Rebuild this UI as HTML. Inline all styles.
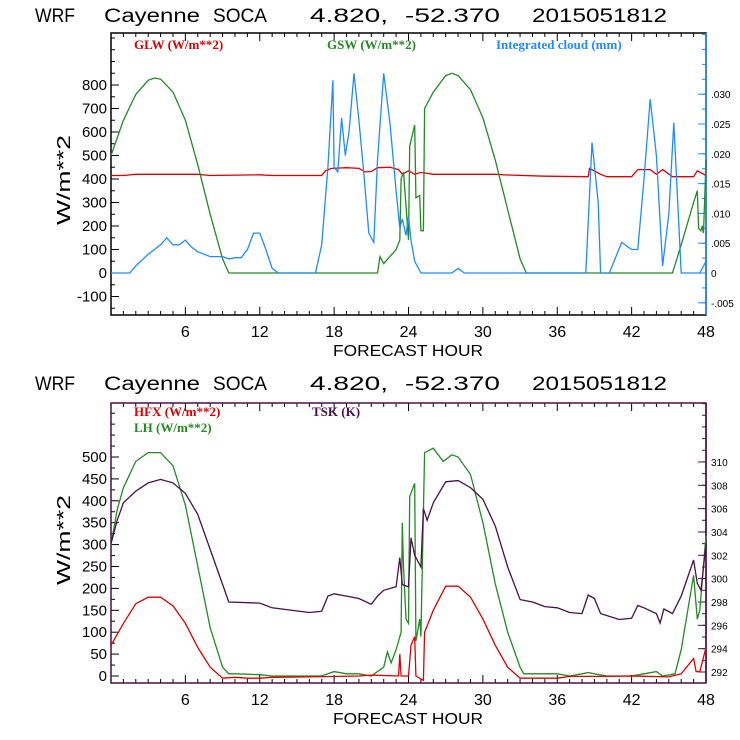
<!DOCTYPE html>
<html><head><meta charset="utf-8"><style>
body{margin:0;background:#fff}
svg{display:block}
text{font-family:"Liberation Sans",sans-serif}
.t{font-family:"Liberation Sans",sans-serif;font-size:19px}
.lg{font-family:"Liberation Serif",serif;font-size:13px}
</style></head><body>
<svg id="s" width="740" height="740" xmlns="http://www.w3.org/2000/svg"></svg>
<script>
// ---- top chart data ----
const gswH=[0,1,2,3,3.5,4,5,6,7,8,9,9.5,21.5,21.7,22,22.5,23,23.3,23.4,23.6,24,24.1,24.5,24.6,24.9,25,25.2,25.3,26,27,27.5,28,29,30,31,32,33,33.5,45.3,46,47,47.3,47.4,47.6,47.7,47.8,48];
const gswV=[500,650,760,820,830,825,770,650,460,250,60,0,0,70,40,70,100,140,400,430,140,540,630,320,330,180,180,700,770,840,850,840,780,660,480,270,60,0,0,120,300,350,190,180,200,170,480];
const cldH=[0,1.5,2,3,4,4.5,5,5.5,6,6.5,7,7.5,8,9,9.5,10,10.5,11,11.5,12,12.5,13,13.5,16.5,17,17.5,17.9,18,18.3,18.6,18.9,19.2,19.6,20,20.4,20.8,21.2,21.5,22,22.5,23,23.3,23.5,23.8,24,24.2,24.5,25,27.5,28,28.5,38.3,38.8,39.3,39.5,40.2,41.2,42,42.5,43,43.5,44,44.5,45,45.4,46,47.5,48];
const cldV=[0,0,30,80,120,150,120,120,140,110,90,80,70,70,60,65,65,100,170,170,100,20,0,0,120,450,820,450,430,660,500,600,850,650,420,170,130,480,850,640,350,190,230,160,240,140,50,0,0,20,0,0,555,300,0,0,130,100,100,400,740,500,30,250,640,0,0,50];
const glwH=[0,1,2,7,8,12,13,17,17.3,17.8,19,20,20.5,21,21.5,22.5,23.2,23.5,24,24.5,25,26,31,32,35,38.5,38.6,39.5,40,42,42.5,43.5,44,44.5,45.3,47,47.3,48];
const glwV=[415,415,420,420,415,418,415,415,435,445,448,445,430,432,448,450,440,420,435,420,428,420,420,417,412,410,445,420,410,410,440,440,420,440,410,410,435,415];
const topYTicks=[-100,0,100,200,300,400,500,600,700,800];
const topRTicks=[-0.005,0,0.005,0.010,0.015,0.020,0.025,0.030];
const topRLabels=["-.005","0",".005",".010",".015",".020",".025",".030"];
// ---- bottom chart data ----
const lhH=[0,0.5,1,2,3,4,5,6,7,8,9,9.5,10,12,13,17,17.5,18,19,20,21,22,22.3,22.6,23,23.4,23.5,23.6,23.8,24,24.1,24.5,24.6,24.9,25,25.3,26,26.8,27.5,28,29,30,31,32,33,33.3,36,37,38,38.5,39,40,42,43,44,44.5,45.5,46,47,47.3,47.5,48];
const lhV=[300,380,430,490,510,510,480,390,250,110,20,5,5,3,0,0,5,10,5,5,0,20,55,30,60,100,350,250,130,120,410,440,80,130,90,510,520,490,505,500,460,350,210,100,20,5,5,0,5,8,5,0,0,5,10,0,5,60,230,130,150,320];
const tskH=[0,0.5,1,2,3,4,5,6,7,8,9,9.5,12,13,16,17,17.5,18,19,20,21,21.5,22,23,23.3,23.5,24,24.2,24.5,25,25.2,25.5,26,27,28,29,30,31,32,33,34,35,36,37,38,38.5,39,39.5,41,42,42.5,43,44,44.3,44.6,45.3,46,47,47.3,47.6,48];
const tskV=[303,305,306.5,307.5,308.2,308.5,308.2,307.3,305.5,302.5,299.5,298,297.9,297.5,297.1,297.2,298.5,298.7,298.5,298.3,297.8,298.5,299,299.3,301.8,299.5,299.3,303.5,302,301,306,305,306.5,308.3,308.4,307.8,306.8,304.5,301,298.2,298,297.6,297.5,297.1,297,298.6,298.3,297,296.5,296.6,297.7,297.5,297,296.2,297.4,297,298.5,301.6,299.6,299,303];
const hfxH=[0,1,2,3,4,5,6,7,8,9,10,11,12,13,16,20,21,23.2,23.3,23.4,24,24.2,24.5,24.6,25.2,25.3,26,27,28,29,30,31,32,33,36,37,40,42,45,46,47,47.2,47.5,48];
const hfxV=[70,120,165,180,180,160,120,65,20,-5,-3,-5,-5,-3,-2,0,2,0,50,0,0,70,90,0,-10,100,150,205,205,180,130,70,20,-5,-5,-1,-1,0,-2,5,40,10,10,65];
const botYTicks=[0,50,100,150,200,250,300,350,400,450,500];
const botRTicks=[292,294,296,298,300,302,304,306,308,310];
const xTicks=[6,12,18,24,30,36,42,48];
const titleParts=["WRF","Cayenne","SOCA","4.820,","-52.370","2015051812"];

const S=document.getElementById('s');const NS='http://www.w3.org/2000/svg';
function el(t,a,p){const e=document.createElementNS(NS,t);for(const k in a)e.setAttribute(k,a[k]);(p||S).appendChild(e);return e;}
function txt(x,y,s,a){const e=el('text',Object.assign({x:x,y:y},a));e.textContent=s;return e;}
const titleX=[35,104,213,310,405,532];
const titleW=[40,96,54,78,95,135];

function chart(o){
  const g=el('g',{});
  
  
  const L=111,R=706,T=o.top,B=o.bot;
  const X=h=>L+(R-L)*h/48;
  const Y=v=>o.y0px+(v)*o.ypx;
  const Y2=v=>o.r0px+(v-o.r0)*o.rpx;
  const tg=el('g',{},g);
  
  
  titleParts.forEach((s,i)=>txt(titleX[i],o.titleY,s,{class:'t',fill:'#000',textLength:titleW[i],lengthAdjust:'spacingAndGlyphs'},tg));
  for(let h=0;h<=48;h++){const maj=h%6==0;
    el('line',{x1:X(h),x2:X(h),y1:B,y2:B-(maj?8:4),stroke:'#000'},g);
    el('line',{x1:X(h),x2:X(h),y1:T,y2:T+(maj?8:4),stroke:'#000'},g);}
  xTicks.forEach(h=>{const t=txt(X(h),B+22,String(h),{'text-anchor':'middle','font-size':16,fill:'#000'},g);
    
    });
  const xt=txt(408,B+41,'FORECAST HOUR',{'text-anchor':'middle','font-size':16,fill:'#000',textLength:150,lengthAdjust:'spacingAndGlyphs'},g);
  
  
  for(let v=o.minorStart;Y(v)>=T;v+=o.minor){const y=Y(v);if(y>B)continue;
    const maj=o.yTicks.includes(v);
    el('line',{x1:L,x2:L+(maj?8:4),y1:y,y2:y,stroke:'#000'},g);}
  o.yTicks.forEach(v=>{const t=txt(L-4,Y(v)+5,String(v),{'text-anchor':'end','font-size':15,fill:'#000'},g);
    
    });
  const yt=txt(0,0,'W/m**2',{'font-size':18,fill:'#000','text-anchor':'middle',transform:`translate(70,${o.ytY}) rotate(-90)`,textLength:90,lengthAdjust:'spacingAndGlyphs'},g);
  
  
  o.rTicks.forEach((v,i)=>{const y=Y2(v);
    el('line',{x1:R,x2:R-8,y1:y,y2:y,stroke:o.rColor},g);
    const t=txt(R+5,y+4,o.rLabels[i],{'font-size':10,fill:'#000'},g);
    
    });
  for(let v=o.r0-4*o.rMinor;Y2(v)>=T;v+=o.rMinor){const y=Y2(v);if(y>B)continue;
    el('line',{x1:R,x2:R-4,y1:y,y2:y,stroke:o.rColor},g);}
  el('rect',{x:L,y:T,width:R-L,height:B-T,fill:'none',stroke:o.boxColor,'stroke-width':1.5},g);
  el('line',{x1:R,x2:R,y1:T,y2:B,stroke:o.rColor,'stroke-width':1.5},g);
  o.series.forEach(s=>{
    const yf=s.right?Y2:Y;
    const pts=s.h.map((h,i)=>X(h).toFixed(1)+','+Math.min(B,Math.max(T,yf(s.v[i]))).toFixed(1)).join(' ');
    const p=el('polyline',{points:pts,fill:'none',stroke:s.c,'stroke-width':1.3},g);
    
    
  });
  o.legend.forEach(l=>{const t=txt(l.x,l.y,l.s,{class:'lg',fill:l.c,'font-weight':'bold'},g);
    
    });
}
chart({name:'radiation-chart',top:33,bot:315,titleY:22,y0px:273,ypx:-0.235,yTicks:topYTicks,minor:50,minorStart:-150,ytY:180,
  r0:0,r0px:273,rpx:-5960,rTicks:topRTicks,rLabels:topRLabels,rMinor:0.0025,rColor:'#1e8cff',boxColor:'#000',
  series:[{name:'glw-line',h:glwH,v:glwV,c:'#dd0000'},{name:'gsw-line',h:gswH,v:gswV,c:'#228b22'},{name:'cloud-line',h:cldH,v:cldV,c:'#1e8cff'}],
  legend:[{x:134,y:49,s:'GLW (W/m**2)',c:'#dd0000'},{x:327,y:49,s:'GSW (W/m**2)',c:'#228b22'},{x:496,y:49,s:'Integrated cloud (mm)',c:'#1e8cff'}]});
chart({name:'flux-chart',top:403,bot:683,titleY:390,y0px:676,ypx:-0.438,yTicks:botYTicks,minor:25,minorStart:-25,ytY:540,
  r0:292,r0px:672,rpx:-11.67,rTicks:botRTicks,rLabels:botRTicks.map(String),rMinor:1,rColor:'#4b0f4b',boxColor:'#4b0f4b',
  series:[{name:'lh-line',h:lhH,v:lhV,c:'#228b22'},{name:'hfx-line',h:hfxH,v:hfxV,c:'#dd0000'},{name:'tsk-line',h:tskH,v:tskV,c:'#4b0f4b',right:true}],
  legend:[{x:134,y:416,s:'HFX (W/m**2)',c:'#dd0000'},{x:134,y:432,s:'LH  (W/m**2)',c:'#228b22'},{x:312,y:416,s:'TSK (K)',c:'#4b0f4b'}]});
</script>
</body></html>
